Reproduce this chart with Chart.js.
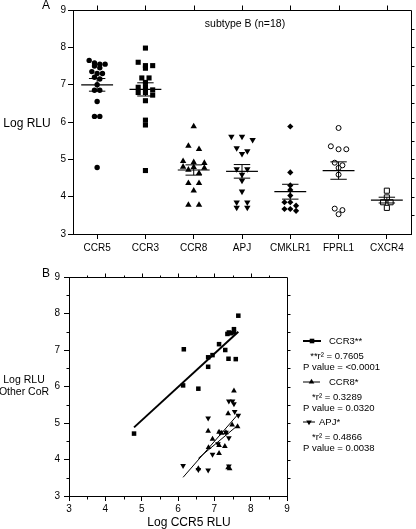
<!DOCTYPE html>
<html>
<head>
<meta charset="utf-8">
<script src="https://cdn.jsdelivr.net/npm/chart.js@4.4.0/dist/chart.umd.min.js"></script>
<style>
  body { margin: 0; background: #fff; }
  canvas { position: absolute; left: 0; top: 0; }
</style>
</head>
<body>
<canvas id="panelA" width="416" height="529"></canvas>
<canvas id="panelB" width="416" height="529"></canvas>
<script>
// Panel A - log RLU per coreceptor, subtype B
var categories = ['CCR5', 'CCR3', 'CCR8', 'APJ', 'CMKLR1', 'FPRL1', 'CXCR4'];
var ccr5Rlu = [7.65, 7.58, 7.55, 7.55, 7.5, 7.45, 7.35, 7.3, 7.3, 7.2, 7.15, 7.0, 6.85, 6.85, 6.55, 6.15, 6.15, 4.78];
var ccr3Rlu = [7.98, 7.6, 7.51, 7.51, 7.44, 7.18, 7.18, 7.06, 6.93, 6.93, 6.86, 6.79, 6.79, 6.72, 6.57, 6.05, 5.92, 4.7];
var ccr8Rlu = [5.88, 5.36, 5.27, 4.95, 4.92, 4.9, 4.8, 4.79, 4.77, 4.72, 4.63, 4.36, 4.36, 4.16, 3.78, 3.78];
var apjRlu = [5.61, 5.61, 5.52, 5.3, 5.22, 5.15, 4.74, 4.74, 4.59, 4.43, 4.14, 3.85, 3.85, 3.71, 3.71];
var cmklr1Rlu = [5.88, 4.65, 4.3, 4.18, 4.03, 3.85, 3.85, 3.76, 3.67, 3.67, 3.62];
var fprl1Rlu = [5.84, 5.35, 5.27, 5.27, 4.91, 4.84, 4.77, 4.59, 3.68, 3.64, 3.53];
var cxcr4Rlu = [4.16, 3.98, 3.85, 3.85, 3.7];
var logTicks = [3, 4, 5, 6, 7, 8, 9];

// Panel B - CCR5 RLU vs other coreceptor RLU
var ccr3X = [7.66, 7.54, 7.54, 7.36, 7.4, 7.45, 7.13, 7.3, 6.16, 6.95, 6.83, 7.39, 7.59, 6.83, 6.14, 6.56, 4.79];
var ccr3Y = [7.94, 7.57, 7.48, 7.44, 7.48, 7.46, 7.16, 7.0, 7.02, 6.86, 6.8, 6.76, 6.75, 6.54, 6.03, 5.94, 4.71];
var ccr8X = [7.54, 7.38, 7.64, 7.49, 6.83, 7.13, 7.32, 6.95, 7.29, 6.84, 7.13, 7.13, 7.38, 7.42, 6.56, 7.2];
var ccr8Y = [5.88, 5.26, 4.9, 4.95, 4.78, 4.75, 4.74, 4.56, 4.36, 4.33, 4.39, 4.17, 3.78, 3.75, 3.75, 4.72];
var apjX = [7.4, 7.5, 7.54, 7.56, 7.66, 6.83, 7.16, 7.32, 7.4, 7.1, 6.95, 6.14, 7.4, 6.56, 6.83];
var apjY = [5.6, 5.6, 5.52, 5.31, 5.21, 5.13, 4.74, 4.74, 4.59, 4.43, 4.14, 3.83, 3.82, 3.72, 3.71];
var fitLabels = ['CCR3**', 'CCR8*', 'APJ*'];
var fitR2 = ['**r\u00b2 = 0.7605', '*r\u00b2 = 0.3289', '*r\u00b2 = 0.4866'];
var fitP = ['P value = <0.0001', 'P value = 0.0320', 'P value = 0.0038'];

var FONT = 'Arial, "Liberation Sans", sans-serif';

function mean(v) { return v.reduce(function (s, a) { return s + a; }, 0) / v.length; }
function sem(v) {
    var m = mean(v), ss = 0;
    v.forEach(function (a) { ss += (a - m) * (a - m); });
    return Math.sqrt(ss / (v.length - 1)) / Math.sqrt(v.length);
}
function pairs(xs, ys) { return xs.map(function (x, i) { return { x: x, y: ys[i] }; }); }
// least squares line over the x range of the data
function fitLine(xs, ys) {
    var mx = mean(xs), my = mean(ys), sxy = 0, sxx = 0;
    for (var i = 0; i < xs.length; i++) {
        sxy += (xs[i] - mx) * (ys[i] - my);
        sxx += (xs[i] - mx) * (xs[i] - mx);
    }
    var b = sxy / sxx, a = my - b * mx;
    var x0 = Math.min.apply(null, xs), x1 = Math.max.apply(null, xs);
    return [{ x: x0, y: a + b * x0 }, { x: x1, y: a + b * x1 }];
}
// column scatter: close values share a row and are spread sideways
function swarm(vals, idx, step, perRow) {
    var sorted = vals.slice().sort(function (a, b) { return b - a; });
    var out = [], row = [];
    function flush() {
        row.forEach(function (v, k) { out.push({ x: idx + (k - (row.length - 1) / 2) * step, y: v }); });
        row = [];
    }
    sorted.forEach(function (v) {
        if (row.length && (row[0] - v > 0.12 || row.length >= perRow)) flush();
        row.push(v);
    });
    flush();
    return out;
}
function line(ctx, x0, y0, x1, y1) {
    ctx.beginPath(); ctx.moveTo(x0, y0); ctx.lineTo(x1, y1); ctx.stroke();
}

var groupsA = [ccr5Rlu, ccr3Rlu, ccr8Rlu, apjRlu, cmklr1Rlu, fprl1Rlu, cxcr4Rlu];
var marksA = [
    { pointStyle: 'circle', pointRadius: 2.7, fill: '#000', border: 0, rot: 0, step: 0.11, perRow: 4 },
    { pointStyle: 'rect', pointRadius: 3.6, fill: '#000', border: 0, rot: 0, step: 0.15, perRow: 4 },
    { pointStyle: 'triangle', pointRadius: 3.7, fill: '#000', border: 0, rot: 0, step: 0.22, perRow: 3 },
    { pointStyle: 'triangle', pointRadius: 3.7, fill: '#000', border: 0, rot: 180, step: 0.22, perRow: 3 },
    { pointStyle: 'rectRot', pointRadius: 3.1, fill: '#000', border: 0, rot: 0, step: 0.12, perRow: 5 },
    { pointStyle: 'circle', pointRadius: 2.5, fill: '#fff', border: 1, rot: 0, step: 0.16, perRow: 3 },
    { pointStyle: 'rect', pointRadius: 3.6, fill: '#fff', border: 1, rot: 0, step: 0.155, perRow: 3 }
];

var panelADecor = {
    id: 'panelADecor',
    afterDatasetsDraw: function (chart) {
        var ctx = chart.ctx, xs = chart.scales.x, ys = chart.scales.y, a = chart.chartArea;
        ctx.save();
        ctx.strokeStyle = '#000';
        // mean and SEM
        groupsA.forEach(function (vals, i) {
            var m = mean(vals), s = sem(vals);
            var cx = xs.getPixelForValue(i), my = ys.getPixelForValue(m);
            ctx.lineWidth = 1.2;
            line(ctx, xs.getPixelForValue(i - 0.33), my, xs.getPixelForValue(i + 0.33), my);
            ctx.lineWidth = 1;
            var yTop = ys.getPixelForValue(m + s), yBot = ys.getPixelForValue(m - s);
            line(ctx, cx, yTop, cx, yBot);
            line(ctx, xs.getPixelForValue(i - 0.17), yTop, xs.getPixelForValue(i + 0.17), yTop);
            line(ctx, xs.getPixelForValue(i - 0.17), yBot, xs.getPixelForValue(i + 0.17), yBot);
        });
        // frame: top and right
        ctx.lineWidth = 1;
        var top = Math.round(a.top) + 0.5, right = Math.round(a.right) + 0.5;
        line(ctx, a.left, top, right, top);
        line(ctx, right, top, right, a.bottom);
        categories.forEach(function (c, i) {
            var px = Math.round(xs.getPixelForValue(i)) + 0.5;
            line(ctx, px, top, px, top - 5);
        });
        for (var v = 3.5; v < 9; v += 0.5) {
            var py = Math.round(ys.getPixelForValue(v)) + 0.5;
            line(ctx, right, py, right + 3, py);
        }
        // texts
        ctx.fillStyle = '#000';
        ctx.textBaseline = 'middle';
        ctx.textAlign = 'center';
        ctx.font = '12px ' + FONT;
        ctx.fillText('A', 46, 6);
        ctx.fillText('Log RLU', 27, 124);
        ctx.font = '10.5px ' + FONT;
        ctx.fillText('subtype B (n=18)', 245, 24);
        ctx.restore();
    }
};

new Chart(document.getElementById('panelA'), {
    type: 'scatter',
    data: {
        datasets: groupsA.map(function (vals, i) {
            var mk = marksA[i];
            return {
                data: swarm(vals, i, mk.step, mk.perRow),
                pointStyle: mk.pointStyle,
                pointRadius: mk.pointRadius,
                pointRotation: mk.rot,
                pointBackgroundColor: mk.fill,
                pointBorderColor: '#000',
                pointBorderWidth: mk.border
            };
        })
    },
    options: {
        responsive: false,
        animation: false,
        events: [],
        layout: { padding: { top: 10, right: 4, left: 0, bottom: 0 } },
        plugins: { legend: { display: false }, tooltip: { enabled: false } },
        scales: {
            x: {
                type: 'linear', min: -0.5, max: 6.5,
                afterBuildTicks: function (s) { s.ticks = categories.map(function (c, i) { return { value: i }; }); },
                afterFit: function (s) { s.height = 529 - 234; },
                border: { color: '#000', width: 1 },
                grid: { drawOnChartArea: false, tickLength: 5, color: '#000' },
                ticks: {
                    color: '#000', padding: 3, maxRotation: 0, autoSkip: false,
                    font: { family: FONT, size: 10 },
                    callback: function (v) { return categories[v]; }
                }
            },
            y: {
                type: 'linear', min: 3, max: 9,
                afterBuildTicks: function (s) { s.ticks = logTicks.map(function (v) { return { value: v }; }); },
                afterFit: function (s) { s.width = 73; },
                border: { color: '#000', width: 1 },
                grid: { drawOnChartArea: false, tickLength: 5, color: '#000' },
                ticks: { color: '#000', padding: 2, font: { family: FONT, size: 10 } }
            }
        }
    },
    plugins: [panelADecor]
});

// Panel B
var ccr3Fit = fitLine(ccr3X, ccr3Y);
var ccr8Fit = fitLine(ccr8X, ccr8Y);
var apjFit = fitLine(apjX, apjY);

function drawMark(ctx, kind, x, y) {
    ctx.beginPath();
    if (kind === 'square') {
        ctx.rect(x - 2.3, y - 2.3, 4.6, 4.6);
    } else if (kind === 'up') {
        ctx.moveTo(x, y - 3.2); ctx.lineTo(x + 2.8, y + 1.6); ctx.lineTo(x - 2.8, y + 1.6);
    } else {
        ctx.moveTo(x, y + 3.2); ctx.lineTo(x + 2.8, y - 1.6); ctx.lineTo(x - 2.8, y - 1.6);
    }
    ctx.closePath();
    ctx.fill();
}

var legendRows = [
    { y: 341, lineW: 2, x1: 321, textX: 329, mark: 'square' },
    { y: 382, lineW: 1, x1: 320, textX: 329, mark: 'up' },
    { y: 422, lineW: 1, x1: 315, textX: 319, mark: 'down' }
];

var panelBDecor = {
    id: 'panelBDecor',
    afterDatasetsDraw: function (chart) {
        var ctx = chart.ctx, xs = chart.scales.x, ys = chart.scales.y, a = chart.chartArea;
        ctx.save();
        ctx.strokeStyle = '#000';
        ctx.fillStyle = '#000';
        ctx.lineWidth = 1;
        var top = Math.round(a.top) + 0.5, right = Math.round(a.right) + 0.5;
        var left = Math.round(a.left) + 0.5, bottom = Math.round(a.bottom) + 0.5;
        line(ctx, a.left, top, right, top);
        line(ctx, right, top, right, a.bottom);
        for (var v = 3.5; v < 9; v += 0.5) {
            var major = v % 1 === 0;
            var px = Math.round(xs.getPixelForValue(v)) + 0.5;
            var py = Math.round(ys.getPixelForValue(v)) + 0.5;
            line(ctx, px, top, px, top - (major ? 4 : 2));
            line(ctx, right, py, right + 3, py);
            if (!major) {
                line(ctx, left, py, left - 3, py);
                line(ctx, px, bottom, px, bottom + 3);
            }
        }
        // legend
        ctx.textBaseline = 'middle';
        legendRows.forEach(function (r, i) {
            ctx.lineWidth = r.lineW;
            line(ctx, 303, r.y, r.x1, r.y);
            drawMark(ctx, r.mark, (303 + r.x1) / 2, r.y);
            ctx.font = '9.5px ' + FONT;
            ctx.textAlign = 'left';
            ctx.fillText(fitLabels[i], r.textX, r.y);
            ctx.textAlign = 'center';
            ctx.fillText(fitR2[i], 337, r.y + 15);
            ctx.textAlign = 'left';
            ctx.fillText(fitP[i], 303, r.y + 26);
        });
        // texts
        ctx.textAlign = 'center';
        ctx.font = '12px ' + FONT;
        ctx.fillText('B', 46, 274);
        ctx.fillText('Log CCR5 RLU', 189, 523);
        ctx.font = '10.5px ' + FONT;
        ctx.fillText('Log RLU', 24, 380);
        ctx.fillText('Other CoR', 24, 392);
        ctx.restore();
    }
};

new Chart(document.getElementById('panelB'), {
    type: 'scatter',
    data: {
        datasets: [
            { type: 'line', data: ccr3Fit, borderColor: '#000', borderWidth: 2, pointRadius: 0, fill: false },
            { type: 'line', data: ccr8Fit, borderColor: '#000', borderWidth: 1, pointRadius: 0, fill: false },
            { type: 'line', data: apjFit, borderColor: '#000', borderWidth: 1, pointRadius: 0, fill: false },
            { data: pairs(ccr3X, ccr3Y), pointStyle: 'rect', pointRadius: 3.2, pointBackgroundColor: '#000', pointBorderWidth: 0 },
            { data: pairs(ccr8X, ccr8Y), pointStyle: 'triangle', pointRadius: 3.3, pointBackgroundColor: '#000', pointBorderWidth: 0 },
            { data: pairs(apjX, apjY), pointStyle: 'triangle', pointRotation: 180, pointRadius: 3.3, pointBackgroundColor: '#000', pointBorderWidth: 0 }
        ]
    },
    options: {
        responsive: false,
        animation: false,
        events: [],
        layout: { padding: { top: 277, right: 129, left: 0, bottom: 0 } },
        plugins: { legend: { display: false }, tooltip: { enabled: false } },
        scales: {
            x: {
                type: 'linear', min: 3, max: 9,
                afterBuildTicks: function (s) { s.ticks = logTicks.map(function (v) { return { value: v }; }); },
                afterFit: function (s) { s.height = 529 - 496; },
                border: { color: '#000', width: 1 },
                grid: { drawOnChartArea: false, tickLength: 5, color: '#000' },
                ticks: { color: '#000', padding: 2, maxRotation: 0, font: { family: FONT, size: 10 } }
            },
            y: {
                type: 'linear', min: 3, max: 9,
                afterBuildTicks: function (s) { s.ticks = logTicks.map(function (v) { return { value: v }; }); },
                afterFit: function (s) { s.width = 69; },
                border: { color: '#000', width: 1 },
                grid: { drawOnChartArea: false, tickLength: 5, color: '#000' },
                ticks: { color: '#000', padding: 4, font: { family: FONT, size: 10 } }
            }
        }
    },
    plugins: [panelBDecor]
});
</script>
</body>
</html>
